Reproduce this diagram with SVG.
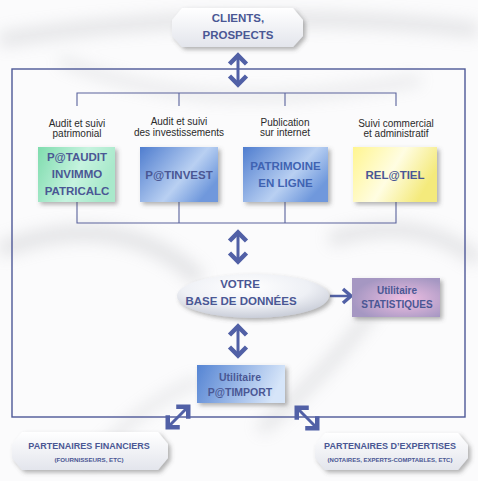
<svg xmlns="http://www.w3.org/2000/svg" width="478" height="481" viewBox="0 0 478 481">
<style>
.lbl{font-family:"Liberation Sans",Arial,sans-serif;font-size:10px;fill:#2a2a2a;text-anchor:middle}
.bt{font-family:"Liberation Sans",Arial,sans-serif;font-weight:bold;fill:#4a5794;text-anchor:middle}
.ln{stroke:#5a639c;stroke-width:1.1;fill:none}
.frame{stroke:#4d5897;stroke-width:1.4;fill:none}
.arr{stroke:#5160a6;fill:none;stroke-linejoin:miter;stroke-linecap:butt}
</style>
<defs>
<filter id="sh" x="-20%" y="-20%" width="150%" height="160%">
<feDropShadow dx="2.5" dy="2.5" stdDeviation="2" flood-color="#555" flood-opacity="0.45"/>
</filter>
<filter id="blur" x="-50%" y="-50%" width="200%" height="200%"><feGaussianBlur stdDeviation="8"/></filter>
<linearGradient id="gGreen" x1="0" y1="0" x2="1" y2="0.3">
<stop offset="0" stop-color="#7fdcae"/><stop offset="0.6" stop-color="#c6f3df"/><stop offset="1" stop-color="#a9e9cb"/>
</linearGradient>
<linearGradient id="gBlue" x1="0" y1="0" x2="1" y2="0.6">
<stop offset="0" stop-color="#4f7dcf"/><stop offset="0.65" stop-color="#b9d0f2"/><stop offset="1" stop-color="#6f98dc"/>
</linearGradient>
<linearGradient id="gBlue2" x1="0" y1="0" x2="1" y2="0.2">
<stop offset="0" stop-color="#5584d3"/><stop offset="1" stop-color="#d6e5f9"/>
</linearGradient>
<linearGradient id="gYellow" x1="0" y1="0" x2="1" y2="0.4">
<stop offset="0" stop-color="#fff590"/><stop offset="0.55" stop-color="#fffde2"/><stop offset="1" stop-color="#f4ea7c"/>
</linearGradient>
<radialGradient id="gMauve" cx="0.6" cy="0.55" r="0.6">
<stop offset="0" stop-color="#f0bfe3"/><stop offset="1" stop-color="#a597c2"/>
</radialGradient>
<radialGradient id="gEll" cx="0.45" cy="0.3" r="0.7">
<stop offset="0" stop-color="#ffffff"/><stop offset="0.6" stop-color="#eef0f5"/><stop offset="1" stop-color="#c9cdd8"/>
</radialGradient>
<linearGradient id="gHex" x1="0" y1="0" x2="0" y2="1">
<stop offset="0" stop-color="#ffffff"/><stop offset="1" stop-color="#e3e5ec"/>
</linearGradient>
<g id="dbl" class="arr">
<line x1="0" y1="-13" x2="0" y2="13" stroke-width="3"/>
<polyline points="-8.5,-6 0,-14.5 8.5,-6" stroke-width="4.5"/>
<polyline points="-8.5,6 0,14.5 8.5,6" stroke-width="4.5"/>
</g>
</defs>

<rect width="478" height="481" fill="#fbfbfc"/>
<g opacity="0.25" filter="url(#blur)" fill="none" stroke="#9a9ca3">
<path d="M0 40 C120 20 300 10 478 30" stroke-width="14"/>
<path d="M60 60 C180 110 300 100 420 80" stroke-width="8"/>
<path d="M0 250 C80 220 150 230 200 280" stroke-width="16"/>
<path d="M330 240 C390 220 440 230 478 260" stroke-width="14"/>
<path d="M200 380 C150 400 120 430 90 460" stroke-width="8"/>
<path d="M260 430 C320 380 360 330 380 300" stroke-width="12"/>
</g>

<g id="connectors">
<rect class="frame" x="12" y="69" width="453" height="348"/>
<path class="ln" d="M77 106 V93 H396 V106 M179 93 V106 M285 93 V106"/>
<path class="ln" d="M77 202 V223 H396 V202 M179 202 V223 M285 202 V223"/>
<use href="#dbl" transform="translate(238,70)"/>
<use href="#dbl" transform="translate(238,247)"/>
<use href="#dbl" transform="translate(238,341)"/>
<use href="#dbl" transform="translate(178,417) rotate(45)"/>
<use href="#dbl" transform="translate(307,418) rotate(-45)"/>
<g class="arr">
<line x1="330" y1="296" x2="350" y2="296" stroke-width="2.5"/>
<polyline points="343,289 351,296 343,303" stroke-width="3.5"/>
</g>
</g>

<g id="clients">
<path d="M182 8 H293 L303 20 V36 L293 47 H182 L172 36 V20 Z" fill="url(#gHex)" filter="url(#sh)"/>
<text class="bt" x="238" y="22" font-size="11.5">CLIENTS,</text>
<text class="bt" x="238" y="39" font-size="11.5">PROSPECTS</text>
</g>

<g id="label-patrimonial">
<text class="lbl" x="77" y="126.5">Audit et suivi</text>
<text class="lbl" x="77" y="137">patrimonial</text>
</g>
<g id="label-invest">
<text class="lbl" x="179" y="124.5">Audit et suivi</text>
<text class="lbl" x="179" y="135.5">des investissements</text>
</g>
<g id="label-internet">
<text class="lbl" x="285" y="125.5">Publication</text>
<text class="lbl" x="285" y="136">sur internet</text>
</g>
<g id="label-commercial">
<text class="lbl" x="396" y="126.5">Suivi commercial</text>
<text class="lbl" x="396" y="137">et administratif</text>
</g>

<g id="pataudit">
<rect x="38" y="147" width="77" height="55" fill="url(#gGreen)" filter="url(#sh)"/>
<text class="bt" x="77" y="161" font-size="11.5">P@TAUDIT</text>
<text class="bt" x="77" y="178" font-size="11.5">INVIMMO</text>
<text class="bt" x="77" y="195" font-size="11.5">PATRICALC</text>
</g>
<g id="patinvest">
<rect x="140" y="147" width="78" height="55" fill="url(#gBlue)" filter="url(#sh)"/>
<text class="bt" x="179" y="179" font-size="11.5">P@TINVEST</text>
</g>
<g id="patrimoine">
<rect x="243" y="147" width="85" height="55" fill="url(#gBlue)" filter="url(#sh)"/>
<text class="bt" x="285.5" y="170" font-size="11.5" style="fill:#3f63b2">PATRIMOINE</text>
<text class="bt" x="285.5" y="187" font-size="11.5" style="fill:#3f63b2">EN LIGNE</text>
</g>
<g id="relatiel">
<rect x="353" y="147" width="84" height="55" fill="url(#gYellow)" filter="url(#sh)"/>
<text class="bt" x="395" y="179" font-size="11.5">REL@TIEL</text>
</g>

<g id="base">
<ellipse cx="253" cy="296" rx="76" ry="22" fill="url(#gEll)" filter="url(#sh)"/>
<text class="bt" x="240" y="288" font-size="11.5">VOTRE</text>
<text class="bt" x="241" y="305" font-size="11.5">BASE DE DONNÉES</text>
</g>

<g id="statistiques">
<rect x="352" y="278" width="88" height="39" fill="url(#gMauve)" filter="url(#sh)"/>
<text class="bt" x="397" y="294" font-size="10">Utilitaire</text>
<text class="bt" x="397" y="307.5" font-size="10">STATISTIQUES</text>
</g>

<g id="patimport">
<rect x="197" y="365" width="88" height="38" fill="url(#gBlue2)" filter="url(#sh)"/>
<text class="bt" x="240" y="381" font-size="10.5">Utilitaire</text>
<text class="bt" x="240" y="396" font-size="10.5">P@TIMPORT</text>
</g>

<g id="financiers">
<path d="M22 432 H158 L168 444 V458 L158 470 H22 L12 458 V444 Z" fill="url(#gHex)" filter="url(#sh)"/>
<text class="bt" x="89" y="448.5" font-size="9">PARTENAIRES FINANCIERS</text>
<text class="bt" x="89" y="461.5" font-size="6.2">(FOURNISSEURS, ETC)</text>
</g>

<g id="expertises">
<path d="M325 433 H458 L468 445 V458 L458 470 H325 L315 458 V445 Z" fill="url(#gHex)" filter="url(#sh)"/>
<text class="bt" x="390" y="449" font-size="9">PARTENAIRES D’EXPERTISES</text>
<text class="bt" x="390" y="461.5" font-size="6">(NOTAIRES, EXPERTS-COMPTABLES, ETC)</text>
</g>
</svg>
